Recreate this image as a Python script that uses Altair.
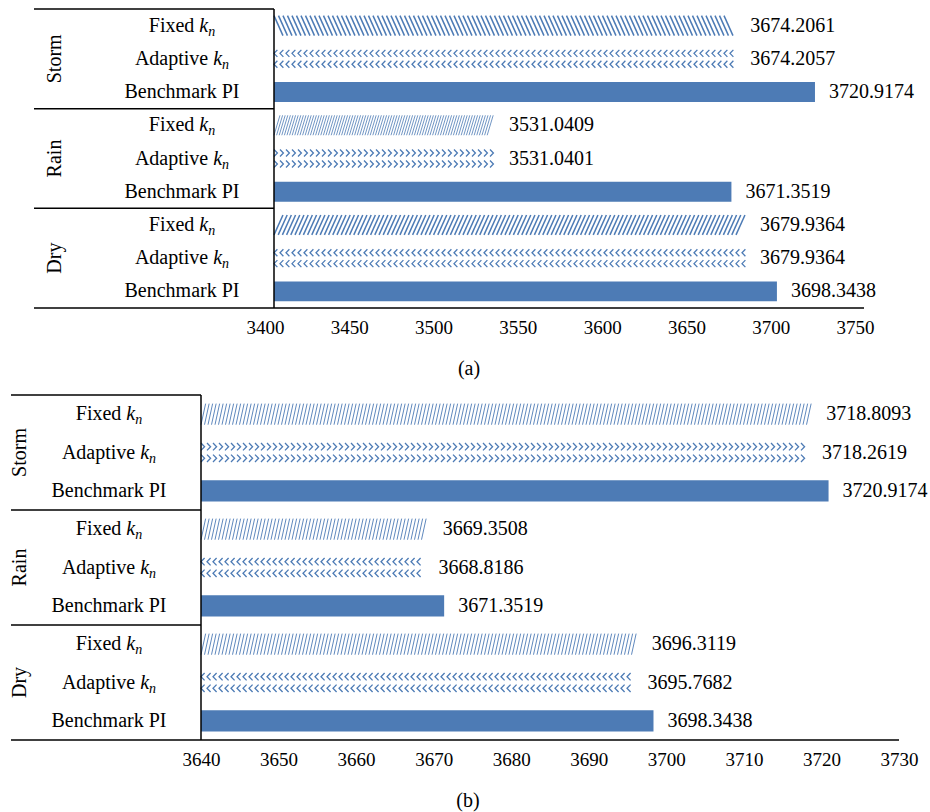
import altair as alt
import numpy as np
import pandas as pd

# ---- data -----------------------------------------------------------------
groups = ["Storm", "Rain", "Dry"]
methods = ["Fixed", "Adaptive", "Benchmark PI"]

# panel (a): Fixed k_n, Adaptive k_n, Benchmark PI for each weather type
storm_a = [3674.2061, 3674.2057, 3720.9174]
rain_a = [3531.0409, 3531.0401, 3671.3519]
dry_a = [3679.9364, 3679.9364, 3698.3438]

# panel (b)
storm_b = [3718.8093, 3718.2619, 3720.9174]
rain_b = [3669.3508, 3668.8186, 3671.3519]
dry_b = [3696.3119, 3695.7682, 3698.3438]

ticks_a = [3400, 3450, 3500, 3550, 3600, 3650, 3700, 3750]
ticks_b = [3640, 3650, 3660, 3670, 3680, 3690, 3700, 3710, 3720, 3730]

# fill pattern of the (Fixed, Adaptive) bars in each group
patterns_a = {"Storm": ("hatch_back", "chev_left"),
              "Rain": ("hatch_fine", "chev_right"),
              "Dry": ("hatch_fwd", "chev_left")}
patterns_b = {"Storm": ("hatch_steep", "chev_right"),
              "Rain": ("hatch_steep", "chev_left"),
              "Dry": ("hatch_steep", "chev_left")}

# ---- styling ----------------------------------------------------------------
BLUE = "#4d7bb5"
FONT = "Liberation Serif"
FS = 20

# pattern glyphs: symbol path in the [-1, 1] box, spacing (px), stroke width,
# half width of the glyph as a fraction of the box
GLYPHS = {
    "hatch_back": dict(path="M-0.45,-1L0.45,1", step=4.5, sw=1.5, hx=0.45),
    "hatch_fwd": dict(path="M-0.45,1L0.45,-1", step=4.2, sw=1.5, hx=0.45),
    "hatch_fine": dict(path="M-0.3,1L0.3,-1", step=2.6, sw=0.8, hx=0.3),
    "hatch_steep": dict(path="M-0.22,1L0.22,-1", step=3.5, sw=0.9, hx=0.22),
    "chev_left": dict(path="M0.17,-0.9L-0.17,-0.55L0.17,-0.2M0.17,0.2L-0.17,0.55L0.17,0.9",
                      step=6.0, sw=1.3, hx=0.17),
    "chev_right": dict(path="M-0.17,-0.9L0.17,-0.55L-0.17,-0.2M-0.17,0.2L0.17,0.55L-0.17,0.9",
                       step=6.0, sw=1.3, hx=0.17),
}

# Times-metric advance widths (1/1000 em) used to centre the mixed-style labels
REG = {" ": 250, "A": 722, "B": 667, "F": 556, "I": 333, "P": 556, "a": 444,
       "c": 444, "d": 500, "e": 444, "h": 500, "i": 278, "k": 500, "m": 778,
       "n": 500, "p": 500, "r": 333, "t": 278, "v": 500, "x": 500}
ITA = {"k": 444, "n": 500}
SUB_FS = 14


def text_width(s, table, size):
    return sum(table.get(c, 500) for c in s) * size / 1000.0


def panel(values, patterns, domain, ticks, width, height, box_left, x_lo,
          pad, label_cx, group_x, tick_shift, caption, cap_xy):
    rows = []
    for g, vals in zip(groups, values):
        for m, v in zip(methods, vals):
            rows.append(dict(row=f"{g}|{m}", group=g, method=m, value=v))
    df = pd.DataFrame(rows)
    keys = list(df["row"])

    step = height / len(keys)
    bw = step * (1 - pad)
    gap = step * pad
    base = domain[0]
    ppu = (width - x_lo) / (domain[1] - domain[0])

    xscale = alt.Scale(domain=domain, range=[x_lo, width], zero=False, nice=False)
    yscale = alt.Scale(domain=keys, paddingInner=pad, paddingOuter=pad / 2)
    axis = alt.Axis(values=ticks, domain=False, ticks=False, tickSize=0, grid=False,
                    labelFont=FONT, labelFontSize=19, labelColor="black",
                    labelPadding=10, labelOffset=tick_shift, labelFlush=False,
                    labelOverlap=False, format="d")

    def X(field):
        return alt.X(f"{field}:Q", scale=xscale, axis=axis, title=None)

    Y = alt.Y("row:N", scale=yscale, axis=None)

    layers = []

    # solid benchmark bars (pattern bars are drawn by glyph rows below)
    layers.append(
        alt.Chart(df).mark_bar(color=BLUE).encode(
            x=X("value"), x2=alt.datum(base), y=Y,
            opacity=alt.condition(alt.datum.method == "Benchmark PI",
                                  alt.value(1), alt.value(0)),
        )
    )

    # patterned bars: repeated stroked glyphs from the axis base to the value
    grows = []
    for r in rows:
        if r["method"] == "Benchmark PI":
            continue
        gname = patterns[r["group"]][0 if r["method"] == "Fixed" else 1]
        gd = GLYPHS[gname]
        half = gd["hx"] * bw / 2 / ppu
        xs = np.arange(base + half, r["value"] - half + 1e-9, gd["step"] / ppu)
        for xv in xs:
            grows.append(dict(row=r["row"], x=xv, glyph=gname))
    gdf = pd.DataFrame(grows)
    for gname in gdf["glyph"].unique():
        gd = GLYPHS[gname]
        layers.append(
            alt.Chart(gdf[gdf["glyph"] == gname]).mark_point(
                shape=gd["path"], filled=False, size=bw * bw,
                strokeWidth=gd["sw"], color=BLUE, opacity=1,
            ).encode(x=X("x"), y=Y)
        )

    # value labels
    layers.append(
        alt.Chart(df).mark_text(align="left", baseline="middle", dx=14,
                                font=FONT, fontSize=FS, color="black").encode(
            x=X("value"), y=Y, text=alt.Text("value:Q", format=".4f"))
    )

    # category labels "Fixed k_n", "Adaptive k_n", "Benchmark PI"
    lab = df.copy()
    lab["main"] = [m if m == "Benchmark PI" else m + " " for m in lab["method"]]
    lab["k"] = ["" if m == "Benchmark PI" else "k" for m in lab["method"]]
    lab["n"] = ["" if m == "Benchmark PI" else "n" for m in lab["method"]]
    w_main = [text_width(s, REG, FS) for s in lab["main"]]
    w_k = [text_width(s, ITA, FS) for s in lab["k"]]
    w_n = [text_width(s, ITA, SUB_FS) for s in lab["n"]]
    lab["x_main"] = [label_cx - (a + b + c) / 2 for a, b, c in zip(w_main, w_k, w_n)]
    lab["x_k"] = lab["x_main"] + w_main
    lab["x_n"] = lab["x_k"] + w_k
    kn = lab[lab["k"] != ""]

    layers.append(
        alt.Chart(lab).mark_text(align="left", baseline="middle", font=FONT,
                                 fontSize=FS, color="black").encode(
            x=alt.X("x_main:Q", scale=None), y=Y, text="main:N")
    )
    layers.append(
        alt.Chart(kn).mark_text(align="left", baseline="middle", font=FONT,
                                fontSize=FS, fontStyle="italic", color="black").encode(
            x=alt.X("x_k:Q", scale=None), y=Y, text="k:N")
    )
    layers.append(
        alt.Chart(kn).mark_text(align="left", baseline="middle", dy=6, font=FONT,
                                fontSize=SUB_FS, fontStyle="italic", color="black").encode(
            x=alt.X("x_n:Q", scale=None), y=Y, text="n:N")
    )

    # rotated group labels, centred on the middle row of each group
    gl = pd.DataFrame({"row": [f"{g}|Adaptive" for g in groups], "group": groups})
    layers.append(
        alt.Chart(gl).mark_text(angle=270, align="center", baseline="middle",
                                font=FONT, fontSize=FS, color="black").encode(
            x=alt.value(group_x), y=Y, text="group:N")
    )

    # frame of the category box: top and group separators, right edge, bottom line
    firsts = pd.DataFrame({"row": [f"{g}|Fixed" for g in groups]})
    layers.append(
        alt.Chart(firsts).mark_rule(color="black", strokeWidth=1.5, yOffset=-gap / 2).encode(
            x=alt.value(box_left), x2=alt.value(x_lo),
            y=alt.Y("row:N", scale=yscale, axis=None, bandPosition=0))
    )
    last = pd.DataFrame({"row": [keys[-1]]})
    layers.append(
        alt.Chart(last).mark_rule(color="black", strokeWidth=1.5, yOffset=gap / 2).encode(
            x=alt.value(box_left), x2=alt.value(width),
            y=alt.Y("row:N", scale=yscale, axis=None, bandPosition=1))
    )
    layers.append(
        alt.Chart(last).mark_rule(color="black", strokeWidth=1.5).encode(
            x=alt.datum(base, scale=xscale), y=alt.value(0), y2=alt.value(height))
    )

    # panel caption
    layers.append(
        alt.Chart(pd.DataFrame({"t": [caption]})).mark_text(
            align="center", baseline="middle", font=FONT, fontSize=FS, color="black").encode(
            x=alt.value(cap_xy[0]), y=alt.value(cap_xy[1]), text="t:N")
    )

    return alt.layer(*layers).properties(width=width, height=height)


top = panel([storm_a, rain_a, dry_a], patterns_a, [3400, 3750], ticks_a,
            width=853, height=299, box_left=23, x_lo=263, pad=0.4,
            label_cx=171, group_x=44, tick_shift=-9, caption="(a)", cap_xy=(458, 360))
bottom = panel([storm_b, rain_b, dry_b], patterns_b, [3640, 3730], ticks_b,
               width=888, height=345, box_left=0, x_lo=190, pad=0.45,
               label_cx=98, group_x=9, tick_shift=0, caption="(b)", cap_xy=(457, 406))

chart = alt.vconcat(top, bottom, spacing=87, bounds="flush").properties(
    padding={"left": 9, "top": 8, "right": 0, "bottom": 4},
    background="white",
).configure_view(stroke=None).configure_axis(
    labelFont=FONT, labelFontSize=19, labelColor="black"
).configure_text(font=FONT)

chart.save("out.html", embed_options={"renderer": "svg", "actions": False})
